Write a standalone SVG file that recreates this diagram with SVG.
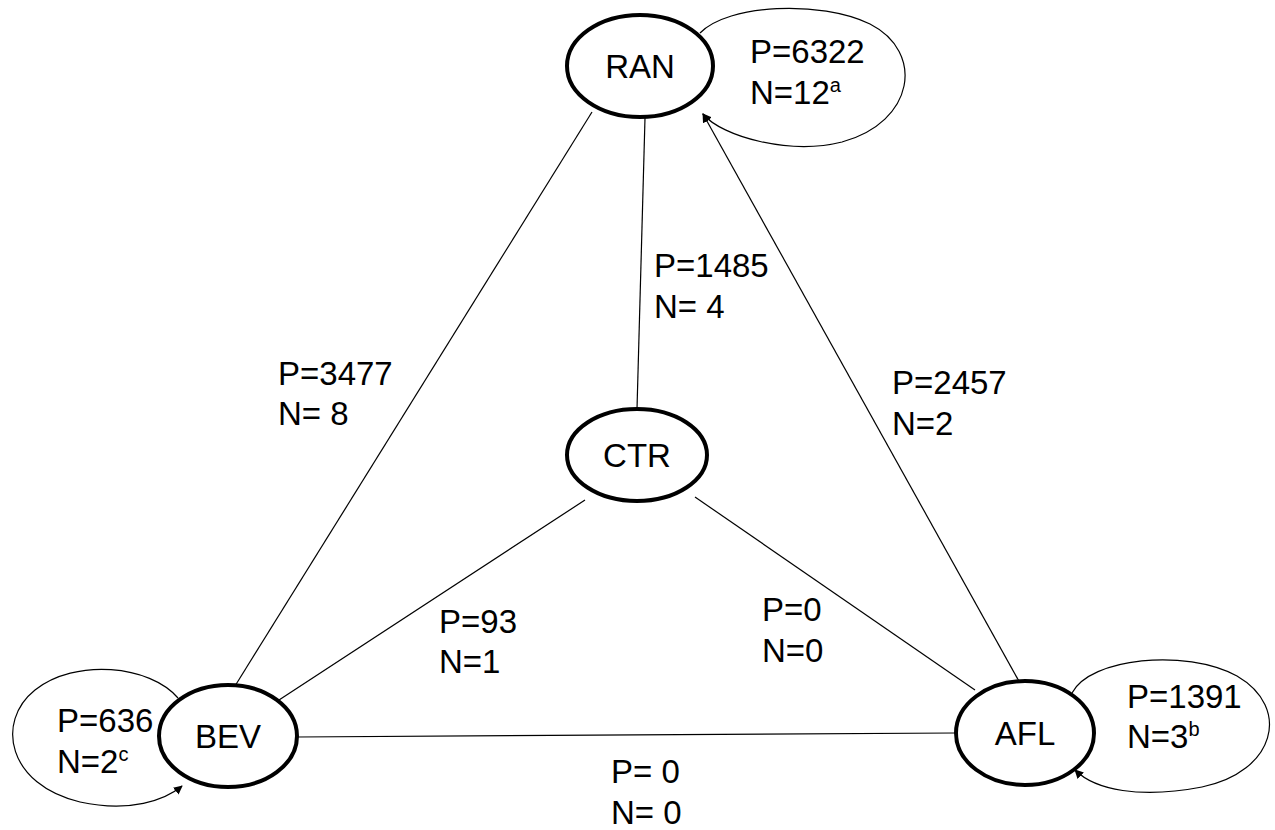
<svg xmlns="http://www.w3.org/2000/svg" width="1275" height="830" viewBox="0 0 1275 830">
<defs>
<style>
.node{fill:#fff;stroke:#000;stroke-width:4}
.edge{fill:none;stroke:#000;stroke-width:1.2}
.loop{fill:none;stroke:#000;stroke-width:1.2}
text{font-family:"Liberation Sans",Arial,sans-serif;font-size:33px;fill:#000}
.sup{font-size:20px}
</style>
<marker id="arr" viewBox="0 0 10 10" refX="9" refY="5" markerWidth="9" markerHeight="9" orient="auto" markerUnits="userSpaceOnUse">
<path d="M0,0 L10,5 L0,10 z" fill="#000"/>
</marker>
</defs>
<rect width="1275" height="830" fill="#fff"/>
<g id="connectors">
<line class="edge" x1="592" y1="112" x2="235" y2="686"/>
<line class="edge" x1="645" y1="118" x2="637" y2="409"/>
<line class="edge" x1="1020" y1="683" x2="703" y2="114" marker-end="url(#arr)"/>
<line class="edge" x1="585" y1="500" x2="279" y2="700"/>
<line class="edge" x1="695" y1="497" x2="975" y2="690"/>
<line class="edge" x1="297" y1="737" x2="955" y2="733"/>
<path class="loop" d="M700,33 C728,4 820,0 870,24 C925,52 915,122 842,142 C790,155 722,137 703,114" marker-end="url(#arr)"/>
<path class="loop" d="M178,698 C150,665 75,658 35,690 C-5,722 8,785 80,802 C130,813 165,800 182,786" marker-end="url(#arr)"/>
<path class="loop" d="M1072,693 C1090,658 1185,648 1237,676 C1292,708 1275,772 1202,787 C1140,799 1095,790 1075,770" marker-end="url(#arr)"/>
</g>
<g id="RAN"><ellipse class="node" cx="640" cy="66" rx="73" ry="51"/><text x="640" y="78" text-anchor="middle">RAN</text></g>
<g id="CTR"><ellipse class="node" cx="637" cy="455" rx="70" ry="46"/><text x="637" y="467" text-anchor="middle">CTR</text></g>
<g id="BEV"><ellipse class="node" cx="228" cy="736" rx="69" ry="51"/><text x="228" y="748" text-anchor="middle">BEV</text></g>
<g id="AFL"><ellipse class="node" cx="1025" cy="733" rx="69" ry="52"/><text x="1025" y="745" text-anchor="middle">AFL</text></g>
<g id="labels">
<text x="750" y="63">P=6322</text><text x="750" y="104">N=12<tspan class="sup" dy="-12">a</tspan></text>
<text x="57" y="732">P=636</text><text x="57" y="773">N=2<tspan class="sup" dy="-12">c</tspan></text>
<text x="1127" y="708">P=1391</text><text x="1127" y="748">N=3<tspan class="sup" dy="-12">b</tspan></text>
<text x="654" y="277">P=1485</text><text x="654" y="318">N= 4</text>
<text x="278" y="385">P=3477</text><text x="278" y="425">N= 8</text>
<text x="892" y="394">P=2457</text><text x="892" y="435">N=2</text>
<text x="439" y="633">P=93</text><text x="439" y="673">N=1</text>
<text x="762" y="621">P=0</text><text x="762" y="662">N=0</text>
<text x="611" y="783">P= 0</text><text x="611" y="824">N= 0</text>
</g>
</svg>
